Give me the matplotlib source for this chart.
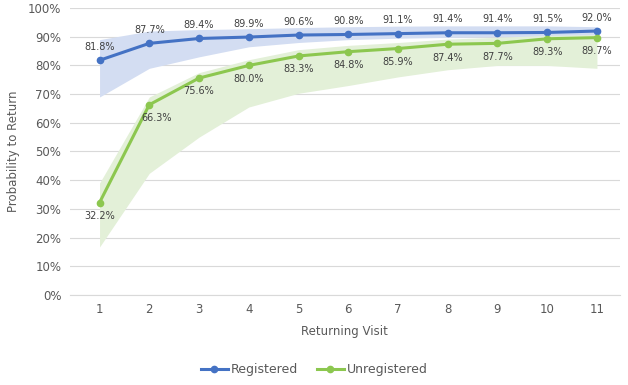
import matplotlib
matplotlib.use("Agg")
import matplotlib.pyplot as plt
from matplotlib.ticker import PercentFormatter

visits = [1, 2, 3, 4, 5, 6, 7, 8, 9, 10, 11]
registered = [81.8, 87.7, 89.4, 89.9, 90.6, 90.8, 91.1, 91.4, 91.4, 91.5, 92.0]
unregistered = [32.2, 66.3, 75.6, 80.0, 83.3, 84.8, 85.9, 87.4, 87.7, 89.3, 89.7]
reg_low = [69.0, 79.0, 83.0, 86.5, 88.0, 89.0, 89.5, 89.8, 90.0, 90.0, 90.2]
reg_high = [89.0, 92.0, 92.5, 92.8, 93.2, 93.5, 93.7, 93.8, 93.8, 93.8, 93.5]
unreg_low = [16.7, 42.4, 55.0, 65.5, 70.3, 73.0, 76.0, 78.5, 80.0, 80.0, 79.0]
unreg_high = [39.0, 69.0, 77.5, 82.0, 85.5, 87.0, 88.0, 89.2, 89.8, 90.5, 90.8]

blue = "#4472C4"
green = "#8CC74F"

fig = plt.figure(figsize=(6.28, 3.85), dpi=100)
ax = fig.add_axes([0.111, 0.234, 0.876, 0.745])

ax.fill_between(visits, reg_low, reg_high, color="#D3DDF2", lw=0, zorder=1)
ax.fill_between(visits, unreg_low, unreg_high, color="#E3F0D8", lw=0, zorder=1)

ax.plot(visits, registered, color=blue, lw=2.2, marker="o", ms=4.5, label="Registered", zorder=3)
ax.plot(visits, unregistered, color=green, lw=2.2, marker="o", ms=4.5, label="Unregistered", zorder=3)

for x, y in zip(visits, registered):
    ax.annotate(f"{y:.1f}%", (x, y), xytext=(0, 6), textcoords="offset points",
                ha="center", va="bottom", fontsize=7, color="#404040")
for i, (x, y) in enumerate(zip(visits, unregistered)):
    dx = 5 if i == 1 else 0
    ax.annotate(f"{y:.1f}%", (x, y), xytext=(dx, -6), textcoords="offset points",
                ha="center", va="top", fontsize=7, color="#404040")

ax.set_xlim(0.4, 11.46)
ax.set_ylim(0, 100)
ax.set_yticks(range(0, 101, 10))
ax.yaxis.set_major_formatter(PercentFormatter(decimals=0))
ax.set_xticks(visits)
ax.grid(axis="y", color="#D9D9D9", lw=0.8)
ax.set_axisbelow(True)
for s in ["top", "right", "left"]:
    ax.spines[s].set_visible(False)
ax.spines["bottom"].set_color("#D9D9D9")
ax.tick_params(length=0, labelsize=8.5, colors="#595959", pad=6)
ax.set_xlabel("Returning Visit", fontsize=8.5, color="#595959", labelpad=6)
ax.set_ylabel("Probability to Return", fontsize=8.5, color="#595959", labelpad=6)

fig.legend(loc="center", bbox_to_anchor=(0.5, 0.04), ncol=2, frameon=False,
           fontsize=9, labelcolor="#595959", handlelength=2.2, handletextpad=0.2,
           columnspacing=1.5)

fig.savefig("out.png", dpi=100)
